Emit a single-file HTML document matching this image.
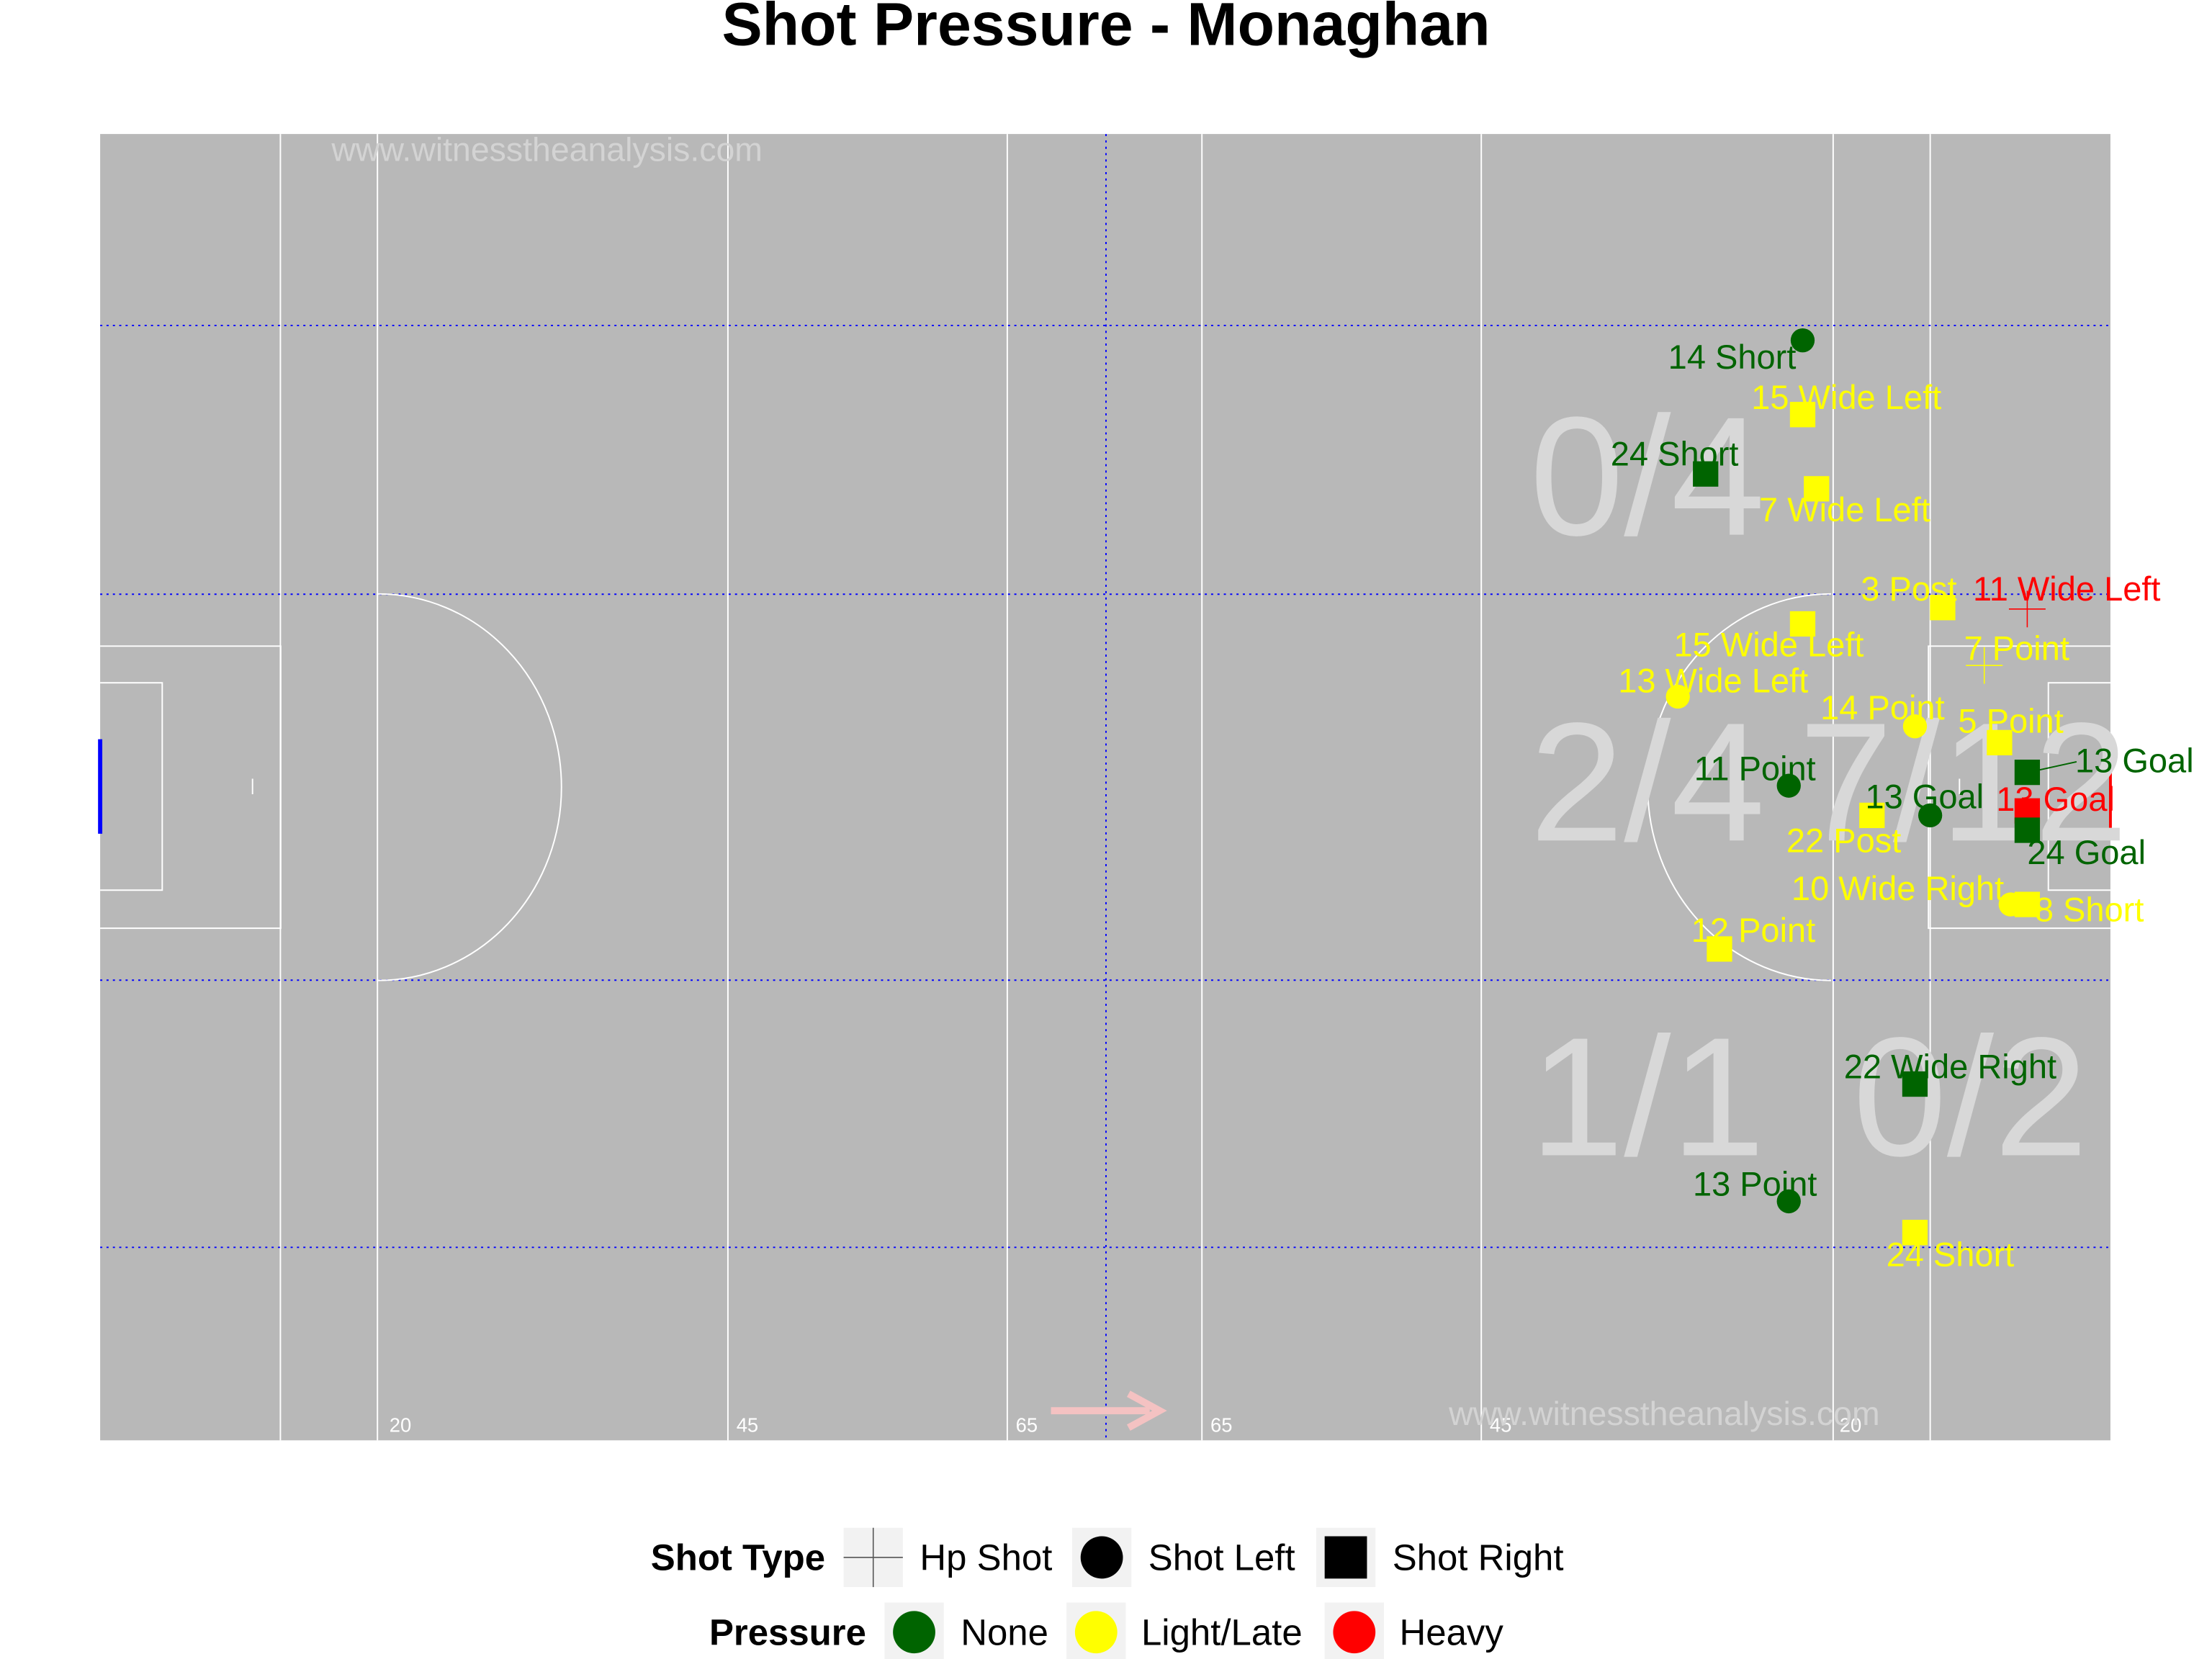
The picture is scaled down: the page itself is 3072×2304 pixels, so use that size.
<!DOCTYPE html>
<html><head><meta charset="utf-8"><style>
html,body{margin:0;padding:0;background:#fff}
svg{display:block}
text{font-family:"Liberation Sans",Arial,sans-serif}
</style></head><body>
<svg id="chart" xmlns="http://www.w3.org/2000/svg" width="3072" height="2304" viewBox="0 0 1568 1176">
<text x="784" y="32" font-size="43" font-weight="bold" text-anchor="middle">Shot Pressure - Monaghan</text>
<g id="pitch"></g>
<g id="marks"></g>
<g font-size="26">
  <text x="585" y="1113" font-weight="bold" text-anchor="end">Shot Type</text>
  <rect x="598" y="1083" width="42" height="42" fill="#f2f2f2"/>
  <line x1="598" y1="1104" x2="640" y2="1104" stroke="#555" stroke-width="0.8"/>
  <line x1="619" y1="1083" x2="619" y2="1125" stroke="#555" stroke-width="0.8"/>
  <text x="652" y="1113">Hp Shot</text>
  <rect x="760" y="1083" width="42" height="42" fill="#f2f2f2"/>
  <circle cx="781" cy="1104" r="15" fill="#000"/>
  <text x="814" y="1113">Shot Left</text>
  <rect x="933" y="1083" width="42" height="42" fill="#f2f2f2"/>
  <rect x="939" y="1089" width="30" height="30" fill="#000"/>
  <text x="987" y="1113">Shot Right</text>
  <text x="614" y="1166" font-weight="bold" text-anchor="end">Pressure</text>
  <rect x="627" y="1136" width="42" height="42" fill="#f2f2f2"/>
  <circle cx="648" cy="1157" r="15" fill="#006400"/>
  <text x="681" y="1166">None</text>
  <rect x="756" y="1136" width="42" height="42" fill="#f2f2f2"/>
  <circle cx="777" cy="1157" r="15" fill="#ffff00"/>
  <text x="809" y="1166">Light/Late</text>
  <rect x="939" y="1136" width="42" height="42" fill="#f2f2f2"/>
  <circle cx="960" cy="1157" r="15" fill="#ff0000"/>
  <text x="992" y="1166">Heavy</text>
</g>
</svg>
<script>
// pitch data (metres), x 0..145, y 0..88
const shotX = [122.8,122.8,115.8,123.8,132.9,139.0,122.8,135.9,113.8,130.9,137.0,139.0,121.8,132.0,127.8,139.0,139.0,137.8,139.0,116.8,130.9,121.8,130.9];
const shotY = [13.9,18.9,22.9,23.9,31.9,32.0,33.0,35.8,37.9,39.9,41.0,43.0,43.9,45.9,45.9,45.6,46.9,51.9,51.9,54.9,64.0,71.9,74.0];
const shotType = ['L','R','R','R','R','H','R','H','L','L','R','R','L','L','R','R','R','L','R','R','R','L','R'];
const shotPressure = ['None','Light','None','Light','Light','Heavy','Light','Light','Light','Light','Light','None','None','None','Light','Heavy','None','Light','Light','Light','None','None','Light'];
const shotLabels = ['14 Short','15 Wide Left','24 Short','7 Wide Left','3 Post','11 Wide Left','15 Wide Left','7 Point','13 Wide Left','14 Point','5 Point','13 Goal','11 Point','13 Goal','22 Post','13 Goal','24 Goal','10 Wide Right','8 Short','12 Point','22 Wide Right','13 Point','24 Short'];
const zoneLabels = ['0/4','2/4','7/12','1/1','0/2'];
const zoneX = [111.6,111.6,134.4,111.6,134.9];
const zoneY = [23.0,43.6,43.6,64.8,64.8];
// label offsets (layout, px)
const labDX = [-50,31,-22,20,-24,28,-24,23,25,-23,8,76,-24,-4,-20,20,42,-80,44,24,25,-24,25];
const labDY = [12,-12,-14,15,-13,-14,15,-12,-11,-13,-15,-8,-12,-13,18,-8,16,-11,4,-13,-12,-12,16];

const P={x0:71,x1:1496,y0:95,y1:1021,L:145,W:88};
const sx=v=>P.x0+v*(P.x1-P.x0)/P.L;
const sy=v=>P.y0+v*(P.y1-P.y0)/P.W;
const NS='http://www.w3.org/2000/svg';
function mk(tag,attrs,parent){const e=document.createElementNS(NS,tag);for(const k in attrs)e.setAttribute(k,attrs[k]);parent.appendChild(e);return e;}
const pitch=document.getElementById('pitch');
const marks=document.getElementById('marks');
let e;
e=mk('rect',{x:P.x0,y:P.y0,width:P.x1-P.x0,height:P.y1-P.y0,fill:'#b8b8b8'},pitch);


[13,20,45.28,65.43,79.47,99.62,125,132].forEach(m=>{
  const l=mk('line',{x1:sx(m),x2:sx(m),y1:P.y0,y2:P.y1,stroke:'#fff','stroke-width':1},pitch);
  
  
});
[12.9,31,57,75].forEach(m=>{
  const l=mk('line',{x1:P.x0,x2:P.x1,y1:sy(m),y2:sy(m),stroke:'#0000ff','stroke-width':1,'stroke-dasharray':'1.5,3'},pitch);
  
  
});
e=mk('line',{x1:784,x2:784,y1:P.y0,y2:P.y1,stroke:'#0000ff','stroke-width':1,'stroke-dasharray':'1.5,3'},pitch);


mk('polyline',{points:`${P.x0},458 199,458 199,658 ${P.x0},658`,fill:'none',stroke:'#fff'},pitch);
mk('polyline',{points:`${P.x0},484 115,484 115,631 ${P.x0},631`,fill:'none',stroke:'#fff'},pitch);
mk('polyline',{points:`${P.x1},458 1367,458 1367,658 ${P.x1},658`,fill:'none',stroke:'#fff'},pitch);
mk('polyline',{points:`${P.x1},484 1452,484 1452,631 ${P.x1},631`,fill:'none',stroke:'#fff'},pitch);
mk('path',{d:'M268,421 A130,137 0 0 1 268,695',fill:'none',stroke:'#fff'},pitch);
mk('path',{d:'M1298,421 A130,137 0 0 0 1298,695',fill:'none',stroke:'#fff'},pitch);
mk('line',{x1:179,x2:179,y1:552,y2:563,stroke:'#fff'},pitch);
mk('line',{x1:1389,x2:1389,y1:552,y2:563,stroke:'#fff'},pitch);
e=mk('line',{x1:71,x2:71,y1:524,y2:591,stroke:'#0000ff','stroke-width':3},pitch);


e=mk('line',{x1:1496,x2:1496,y1:524,y2:591,stroke:'#ff0000','stroke-width':2},pitch);


[[276,'20'],[522,'45'],[720,'65'],[858,'65'],[1056,'45'],[1304,'20']].forEach(d=>{
  const t=mk('text',{x:d[0],y:1015,'font-size':14,fill:'#fff'},pitch);t.textContent=d[1];
  
  
});
e=mk('path',{d:'M745,1000 L815,1000 M800,988 L822,1000 L800,1012',fill:'none',stroke:'#f4c2c2','stroke-width':5},pitch);


[[235,106],[1027,1002]].forEach(p=>{
  const t=mk('text',{x:p[0],y:p[1]+8,'font-size':23.7,fill:'#d3d3d3'},pitch);t.textContent='www.witnesstheanalysis.com';
  
  
});
zoneLabels.forEach((z,i)=>{
  const t=mk('text',{x:sx(zoneX[i]),y:sy(zoneY[i])+42,'font-size':120,fill:'#d8d8d8','text-anchor':'middle'},pitch);
  t.textContent=z;
  
  
});
const col={None:'#006400',Light:'#ffff00',Heavy:'#ff0000'};
mk('line',{x1:1440,y1:547,x2:1472,y2:540,stroke:'#006400','stroke-width':1},marks);
shotX.forEach((v,i)=>{
  const x=sx(v),y=sy(shotY[i]),c=col[shotPressure[i]];let m;
  if(shotType[i]==='L') m=mk('circle',{cx:x,cy:y,r:8.5,fill:c},marks);
  else if(shotType[i]==='R') m=mk('rect',{x:x-9,y:y-9,width:18,height:18,fill:c},marks);
  else m=mk('path',{d:`M${x-13},${y}H${x+13}M${x},${y-13}V${y+13}`,stroke:c,'stroke-width':0.8},marks);
  
  
});
shotX.forEach((v,i)=>{
  const t=mk('text',{x:sx(v)+labDX[i],y:sy(shotY[i])+labDY[i]+8,'font-size':24,fill:col[shotPressure[i]],'text-anchor':'middle'},marks);
  t.textContent=shotLabels[i];
  
  
});
</script>
</body></html>
